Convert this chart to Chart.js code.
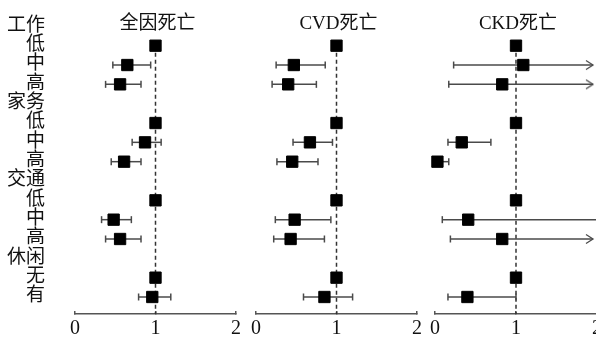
<!DOCTYPE html>
<html>
<head>
<meta charset="utf-8">
<script src="https://cdn.jsdelivr.net/npm/chart.js@4"></script>
<style>
  html, body { margin: 0; padding: 0; background: #fff; overflow: hidden; }
  #wrap { position: relative; width: 596px; height: 340px; overflow: hidden; background: #fff; }
  canvas { position: absolute; top: 0; }
</style>
</head>
<body>
<div id="wrap">
  <canvas id="allCause" width="245" height="340" style="left:0"></canvas>
  <canvas id="cvd" width="180" height="340" style="left:246px"></canvas>
  <canvas id="ckd" width="181" height="340" style="left:425px"></canvas>
</div>
<script>
// rows, top to bottom (group headers have no estimate)
const rowLabels = ['工作', '低', '中', '高', '家务', '低', '中', '高', '交通', '低', '中', '高', '休闲', '无', '有'];
const panelTitles = ['全因死亡', 'CVD死亡', 'CKD死亡'];
const xTicks = [0, 1, 2];
const refValue = 1;

// 全因死亡
const allCauseHR   = [null, 1, 0.65, 0.56, null, 1, 0.87, 0.61, null, 1, 0.48, 0.56, null, 1, 0.96];
const allCauseLow  = [null, null, 0.47, 0.38, null, null, 0.71, 0.45, null, null, 0.33, 0.38, null, null, 0.79];
const allCauseHigh = [null, null, 0.94, 0.82, null, null, 1.07, 0.82, null, null, 0.70, 0.82, null, null, 1.19];

// CVD死亡
const cvdHR   = [null, 1, 0.47, 0.40, null, 1, 0.67, 0.45, null, 1, 0.48, 0.43, null, 1, 0.85];
const cvdLow  = [null, null, 0.25, 0.20, null, null, 0.46, 0.26, null, null, 0.24, 0.22, null, null, 0.59];
const cvdHigh = [null, null, 0.86, 0.75, null, null, 0.95, 0.77, null, null, 0.93, 0.85, null, null, 1.20];

// CKD死亡 (upper bounds past the axis end are drawn as arrows)
const ckdHR   = [null, 1, 1.09, 0.83, null, 1, 0.33, 0.03, null, 1, 0.41, 0.83, null, 1, 0.40];
const ckdLow  = [null, null, 0.23, 0.17, null, null, 0.16, 0.01, null, null, 0.09, 0.19, null, null, 0.16];
const ckdHigh = [null, null, 2.5, 2.5, null, null, 0.69, 0.17, null, null, 2.0, 2.5, null, null, 1.00];

const X_MAX = 2;
const ARROW_X = 1.95;
const Y_MIN = -0.5, Y_MAX = 14.88;

const SERIF = "'Liberation Serif', 'Noto Sans CJK SC', serif";
const CJK = "'Noto Sans CJK SC', 'Liberation Serif', serif";
const INK = '#111';
const BAR = '#4a4a4a';

// open ">" head, tip at the centre of the image
function makeArrowHead() {
    const c = document.createElement('canvas');
    c.width = 20; c.height = 12;
    const g = c.getContext('2d');
    g.strokeStyle = BAR;
    g.lineWidth = 1.3;
    g.beginPath();
    g.moveTo(3, 1.5); g.lineTo(10, 6); g.lineTo(3, 10.5);
    g.stroke();
    return c;
}
const arrowHead = makeArrowHead();

// panel title sits on the first row, centred over the plot
const panelTitle = {
    id: 'panelTitle',
    afterDraw(chart, args, opts) {
        const { ctx, chartArea } = chart;
        ctx.save();
        ctx.fillStyle = INK;
        ctx.font = "19px " + SERIF;
        ctx.textAlign = 'center';
        ctx.textBaseline = 'middle';
        ctx.fillText(opts.text, (chartArea.left + chartArea.right) / 2 + 2, 24);
        ctx.restore();
    }
};

function buildDatasets(hr, low, high) {
    const sets = [];
    // squares on top
    sets.push({
        type: 'scatter',
        data: hr.map((v, i) => v == null ? null : { x: v, y: i }).filter(Boolean),
        pointStyle: 'rect',
        pointRadius: 8,
        pointBackgroundColor: '#000',
        pointBorderColor: '#000',
        pointBorderWidth: 1,
        clip: false
    });
    // confidence intervals
    hr.forEach((v, i) => {
        if (low[i] == null) return;
        const beyond = high[i] > X_MAX;
        sets.push({
            type: 'line',
            showLine: true,
            data: [{ x: low[i], y: i }, { x: beyond ? ARROW_X : high[i], y: i }],
            borderColor: BAR,
            borderWidth: 1.5,
            pointStyle: ['line', beyond ? arrowHead : 'line'],
            pointRotation: [90, beyond ? 0 : 90],
            pointRadius: 3.5,
            pointBorderColor: BAR,
            pointBorderWidth: 1.5,
            clip: false
        });
    });
    // reference line at HR = 1
    sets.push({
        type: 'line',
        showLine: true,
        data: [{ x: refValue, y: 1 }, { x: refValue, y: Y_MAX }],
        borderColor: '#333',
        borderWidth: 1.5,
        borderDash: [4, 3],
        pointRadius: 0
    });
    return sets;
}

function makeChart(id, title, hr, low, high, showRows) {
    return new Chart(document.getElementById(id), {
        type: 'scatter',
        data: { datasets: buildDatasets(hr, low, high) },
        plugins: [panelTitle],
        options: {
            responsive: false,
            animation: false,
            devicePixelRatio: 1,
            layout: { padding: { left: showRows ? 0 : 10, right: 8, top: 16.7, bottom: 0 } },
            plugins: {
                legend: { display: false },
                tooltip: { enabled: false },
                title: { display: false },
                panelTitle: { text: title }
            },
            scales: {
                x: {
                    type: 'linear',
                    min: 0,
                    max: X_MAX,
                    afterBuildTicks: s => { s.ticks = xTicks.map(v => ({ value: v })); },
                    afterFit: s => { s.height = 26; s.paddingLeft = 0; s.paddingRight = 0; },
                    grid: { display: true, drawOnChartArea: false, tickLength: -3, color: '#555', lineWidth: 1.5 },
                    border: { display: true, color: '#555', width: 1.5 },
                    ticks: { color: INK, font: { family: SERIF, size: 20 }, padding: 6 }
                },
                y: {
                    type: 'linear',
                    reverse: true,
                    min: Y_MIN,
                    max: Y_MAX,
                    display: showRows,
                    afterBuildTicks: s => { s.ticks = rowLabels.map((_, i) => ({ value: i })); },
                    afterFit: s => {
                        s.width = showRows ? 75 : 0;
                        s.paddingTop = 0;
                        s.paddingBottom = 0;
                    },
                    grid: { display: false, drawTicks: false },
                    border: { display: false },
                    ticks: {
                        color: INK,
                        font: { family: CJK, size: 19 },
                        padding: 30,
                        labelOffset: -3,
                        autoSkip: false,
                        callback: v => rowLabels[v]
                    }
                }
            }
        }
    });
}

makeChart('allCause', panelTitles[0], allCauseHR, allCauseLow, allCauseHigh, true);
makeChart('cvd', panelTitles[1], cvdHR, cvdLow, cvdHigh, false);
makeChart('ckd', panelTitles[2], ckdHR, ckdLow, ckdHigh, false);
</script>
</body>
</html>
